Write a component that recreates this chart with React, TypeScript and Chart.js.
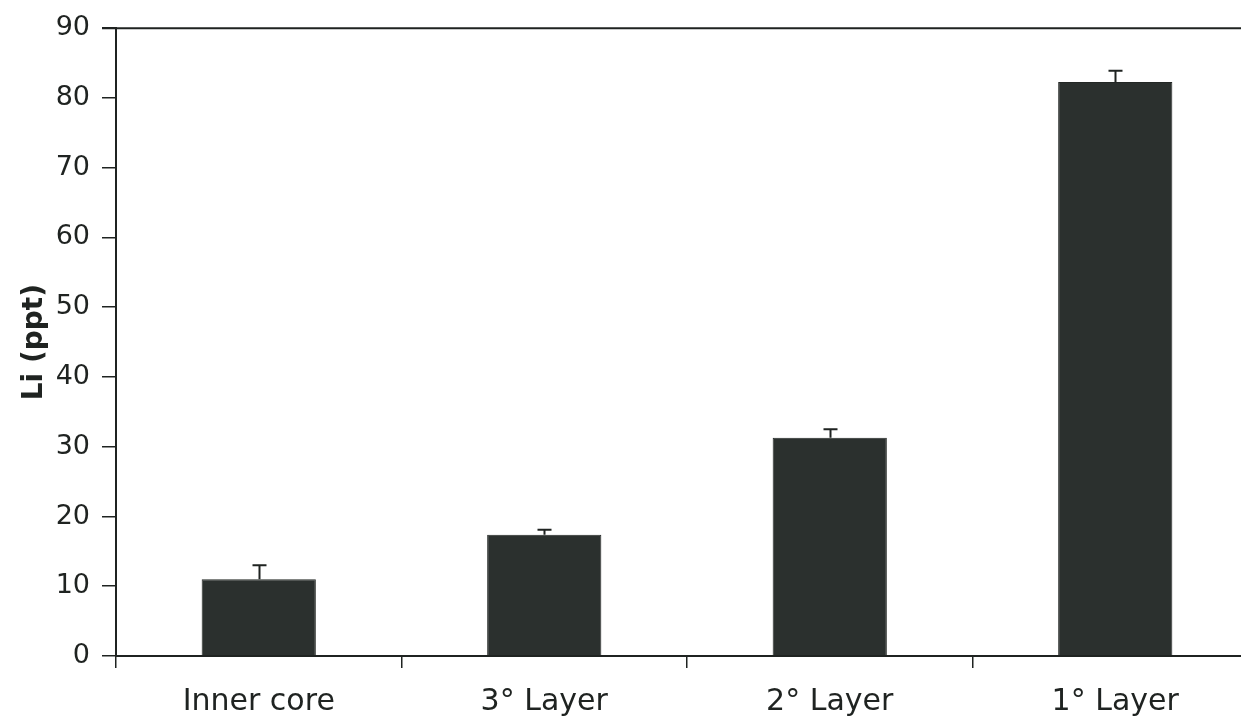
import React, { useEffect, useRef } from "react";
import { Chart, registerables } from "chart.js";

Chart.register(...registerables);

const categories = ["Inner core", "3° Layer", "2° Layer", "1° Layer"];
const liValues = [11.0, 17.4, 31.3, 82.3];
const liErrors = [2.0, 0.7, 1.2, 1.6];
const yTitle = "Li (ppt)";

const FONT = "'DejaVu Sans', Verdana, sans-serif";
const INK = "#1f2321";

const errorBarPlugin = {
  id: "errorBars",
  afterDatasetsDraw(chart: any) {
    const ctx = chart.ctx;
    const meta = chart.getDatasetMeta(0);
    const yScale = chart.scales.y;
    ctx.save();
    ctx.strokeStyle = INK;
    ctx.lineWidth = 2;
    meta.data.forEach((bar: any, i: number) => {
      const top = yScale.getPixelForValue(liValues[i] + liErrors[i]);
      const x = Math.round(bar.x) + 0.5;
      ctx.beginPath();
      ctx.moveTo(x, bar.y);
      ctx.lineTo(x, top);
      ctx.moveTo(x - 7, top);
      ctx.lineTo(x + 7, top);
      ctx.stroke();
    });
    ctx.restore();
  },
};

const topBorderPlugin = {
  id: "topBorder",
  afterDraw(chart: any) {
    const { ctx, chartArea } = chart;
    ctx.save();
    ctx.strokeStyle = INK;
    ctx.lineWidth = 2;
    ctx.beginPath();
    ctx.moveTo(chartArea.left - 14, chartArea.top);
    ctx.lineTo(chartArea.right, chartArea.top);
    ctx.stroke();
    ctx.restore();
  },
};

export default function App() {
  const ref = useRef<HTMLCanvasElement | null>(null);

  useEffect(() => {
    if (!ref.current) return;
    const chart = new Chart(ref.current, {
      type: "bar",
      data: {
        labels: categories,
        datasets: [
          {
            label: yTitle,
            data: liValues,
            backgroundColor: "#2b302e",
            borderColor: "#232725",
            borderWidth: 1,
            barPercentage: 0.4,
            categoryPercentage: 1,
          },
        ],
      },
      options: {
        responsive: false,
        animation: false,
        layout: { padding: { top: 24, right: 12, left: 0, bottom: 0 } },
        plugins: {
          legend: { display: false },
          tooltip: { enabled: false },
        },
        scales: {
          x: {
            offset: true,
            grid: {
              offset: true,
              drawOnChartArea: false,
              drawTicks: true,
              tickLength: 12,
              color: INK,
              lineWidth: 1.5,
            },
            border: { display: true, color: INK, width: 2 },
            ticks: {
              color: INK,
              font: { family: FONT, size: 30 },
              padding: 16,
              maxRotation: 0,
            },
            afterFit(scale: any) {
              scale.height = 64;
            },
          },
          y: {
            min: 0,
            max: 90,
            ticks: {
              stepSize: 10,
              color: INK,
              font: { family: FONT, size: 27 },
              padding: 12,
            },
            grid: {
              drawOnChartArea: false,
              drawTicks: true,
              tickLength: 14,
              color: INK,
              lineWidth: 1.5,
            },
            border: { display: true, color: INK, width: 2 },
            title: {
              display: true,
              text: yTitle,
              color: INK,
              font: { family: FONT, size: 28, weight: "bold" },
              padding: { top: 18, bottom: 0 },
            },
            afterFit(scale: any) {
              scale.width = 116;
            },
          },
        },
      },
      plugins: [errorBarPlugin, topBorderPlugin],
    });
    return () => chart.destroy();
  }, []);

  return (
    <div
      style={{
        position: "fixed",
        left: 0,
        top: 0,
        width: 1241,
        height: 720,
        overflow: "hidden",
        background: "#ffffff",
      }}
    >
      <canvas ref={ref} width={1270} height={720} style={{ display: "block" }} />
    </div>
  );
}
